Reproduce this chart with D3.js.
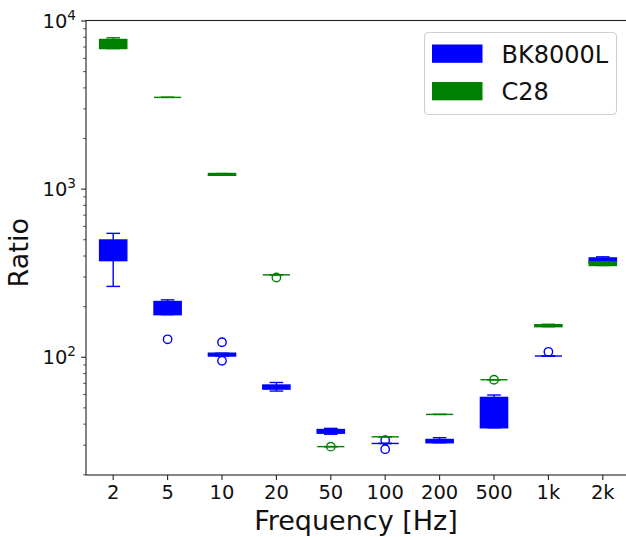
<!DOCTYPE html>
<html>
<head>
<meta charset="utf-8">
<script src="https://cdn.jsdelivr.net/npm/d3@7"></script>
<style>
  html, body { margin: 0; padding: 0; background: #fff; }
  svg { display: block; font-family: "DejaVu Sans", sans-serif; }
</style>
</head>
<body>
<svg id="chart" width="626" height="537"></svg>
<script>
// ---- data ----
const categories = ["2", "5", "10", "20", "50", "100", "200", "500", "1k", "2k"];
const seriesNames = ["BK8000L", "C28"];
const seriesColors = ["#0000ff", "#008000"];

const bkLow    = [262, 178, 101, 62.5, 34.6, 30.5, 30.8, 37.8, 101, 360];
const bkQ1     = [373, 178, 101, 64.2, 35.1, 30.5, 30.8, 37.8, 101, 362];
const bkMed    = [430, 195, 103, 66.0, 36.0, 30.5, 31.5, 50.0, 101, 375];
const bkQ3     = [495, 213, 105, 67.9, 36.9, 30.5, 32.2, 57.3, 101, 387];
const bkHigh   = [542, 218, 105, 70.3, 37.5, 30.5, 33.0, 59.2, 101, 393];
const bkFliers = [[], [127], [122, 94.6], [], [], [31.9, 28.2], [], [], [107], []];

const c28Low    = [6810, 3490, 1200, 307, 29.2, 33.4, 45.4, 73, 151, 349];
const c28Q1     = [6810, 3490, 1200, 307, 29.2, 33.4, 45.4, 73, 151, 349];
const c28Med    = [7300, 3490, 1215, 307, 29.2, 33.4, 45.4, 73, 153, 358];
const c28Q3     = [7710, 3490, 1230, 307, 29.2, 33.4, 45.4, 73, 155, 367];
const c28High   = [7890, 3490, 1230, 307, 29.2, 33.4, 45.4, 73, 156, 367];
const c28Fliers = [[], [], [], [296], [29.2], [], [], [73], [], []];

const yMajorTicks = [100, 1000, 10000];
const yMajorLabels = [["10", "2"], ["10", "3"], ["10", "4"]];

// ---- layout ----
(function () {
const svg = d3.select("#chart");
const pLeft = 86, pRight = 630, pTop = 20.5, pBottom = 475;

const x = d3.scaleBand().domain(categories).range([pLeft, pRight]).padding(0);
const y = d3.scaleLog().domain([19.8, 10000]).range([pBottom, pTop]);
const bw = x.bandwidth();
const boxW = bw * 0.5;
const capW = boxW * 0.5;
const cx = c => x(c) + bw / 2;

const series = [
  {low: bkLow, q1: bkQ1, med: bkMed, q3: bkQ3, high: bkHigh, fliers: bkFliers},
  {low: c28Low, q1: c28Q1, med: c28Med, q3: c28Q3, high: c28High, fliers: c28Fliers}
];

const plot = svg.append("g");
const lw = 1.4;

series.forEach((s, si) => {
  const col = seriesColors[si];
  const g = plot.append("g");
  categories.forEach((c, i) => {
    const xc = cx(c);
    g.append("line").attr("x1", xc).attr("x2", xc)
      .attr("y1", y(s.q3[i])).attr("y2", y(s.high[i]))
      .attr("stroke", col).attr("stroke-width", lw);
    g.append("line").attr("x1", xc).attr("x2", xc)
      .attr("y1", y(s.q1[i])).attr("y2", y(s.low[i]))
      .attr("stroke", col).attr("stroke-width", lw);
    [s.high[i], s.low[i]].forEach(v => {
      g.append("line").attr("x1", xc - capW / 2).attr("x2", xc + capW / 2)
        .attr("y1", y(v)).attr("y2", y(v))
        .attr("stroke", col).attr("stroke-width", lw);
    });
    const yt = y(s.q3[i]), yb = y(s.q1[i]);
    g.append("rect").attr("x", xc - boxW / 2).attr("width", boxW)
      .attr("y", yt).attr("height", Math.max(0, yb - yt))
      .attr("fill", col).attr("stroke", col).attr("stroke-width", lw);
    g.append("line").attr("x1", xc - boxW / 2).attr("x2", xc + boxW / 2)
      .attr("y1", y(s.med[i])).attr("y2", y(s.med[i]))
      .attr("stroke", col).attr("stroke-width", lw);
    s.fliers[i].forEach(v => {
      g.append("circle").attr("cx", xc).attr("cy", y(v)).attr("r", 4.2)
        .attr("fill", "none").attr("stroke", col).attr("stroke-width", lw);
    });
  });
});

// ---- axes ----
const axisColor = "#222";
const tickFont = 19.5;
const xAxis = svg.append("g").attr("transform", `translate(0,${pBottom})`)
  .call(d3.axisBottom(x).tickSize(4.9).tickSizeOuter(0).tickPadding(5));
xAxis.select(".domain").remove();
xAxis.selectAll("line").attr("stroke", axisColor).attr("stroke-width", 1.1);
xAxis.selectAll("text").attr("font-size", tickFont).attr("fill", "#111")
  .attr("font-family", "DejaVu Sans");

const minor = [];
[10, 100, 1000].forEach(d => { for (let k = 2; k <= 9; k++) { const v = d * k; if (v >= 19.8 && v < 10000) minor.push(v); } });
const yMinor = svg.append("g").attr("transform", `translate(${pLeft},0)`)
  .call(d3.axisLeft(y).tickValues(minor).tickSize(2.8).tickFormat(""));
yMinor.select(".domain").remove();
yMinor.selectAll("line").attr("stroke", axisColor).attr("stroke-width", 0.8);

const yAxis = svg.append("g").attr("transform", `translate(${pLeft},0)`)
  .call(d3.axisLeft(y).tickValues(yMajorTicks).tickSize(4.9).tickPadding(5).tickFormat(""));
yAxis.select(".domain").remove();
yAxis.selectAll("line").attr("stroke", axisColor).attr("stroke-width", 1.1);
yAxis.selectAll(".tick").each(function (d) {
  const t = d3.select(this).append("text")
    .attr("x", -10).attr("y", 0).attr("dy", "0.35em")
    .attr("text-anchor", "end").attr("fill", "#111")
    .attr("font-size", tickFont).attr("font-family", "DejaVu Sans");
  const lab = yMajorLabels[yMajorTicks.indexOf(d)];
  t.append("tspan").text(lab[0]);
  t.append("tspan").attr("font-size", 13.6).attr("dy", "-0.6em").text(lab[1]);
});

svg.append("rect").attr("x", pLeft).attr("y", pTop).attr("width", pRight - pLeft).attr("height", pBottom - pTop)
  .attr("fill", "none").attr("stroke", axisColor).attr("stroke-width", 1.1);

svg.append("text").attr("x", (pLeft + pRight) / 2 - 2).attr("y", 530)
  .attr("text-anchor", "middle").attr("font-size", 27).attr("fill", "#111")
  .text("Frequency [Hz]");
svg.append("text").attr("transform", `translate(28,${(pTop + pBottom) / 2 + 5}) rotate(-90)`)
  .attr("text-anchor", "middle").attr("font-size", 27).attr("fill", "#111")
  .text("Ratio");

const lg = svg.append("g").attr("transform", "translate(424.5,32.5)");
lg.append("rect").attr("width", 192).attr("height", 82).attr("rx", 4)
  .attr("fill", "#fff").attr("fill-opacity", 0.8).attr("stroke", "#d0d0d0").attr("stroke-width", 1.1);
seriesNames.forEach((n, i) => {
  lg.append("rect").attr("x", 7.5).attr("y", 12 + i * 37.5).attr("width", 50.5).attr("height", 18.3)
    .attr("fill", seriesColors[i]);
  lg.append("text").attr("x", 77).attr("y", 30 + i * 37.5).attr("font-size", 24).attr("fill", "#111")
    .text(n);
});
})();
</script>
</body>
</html>
